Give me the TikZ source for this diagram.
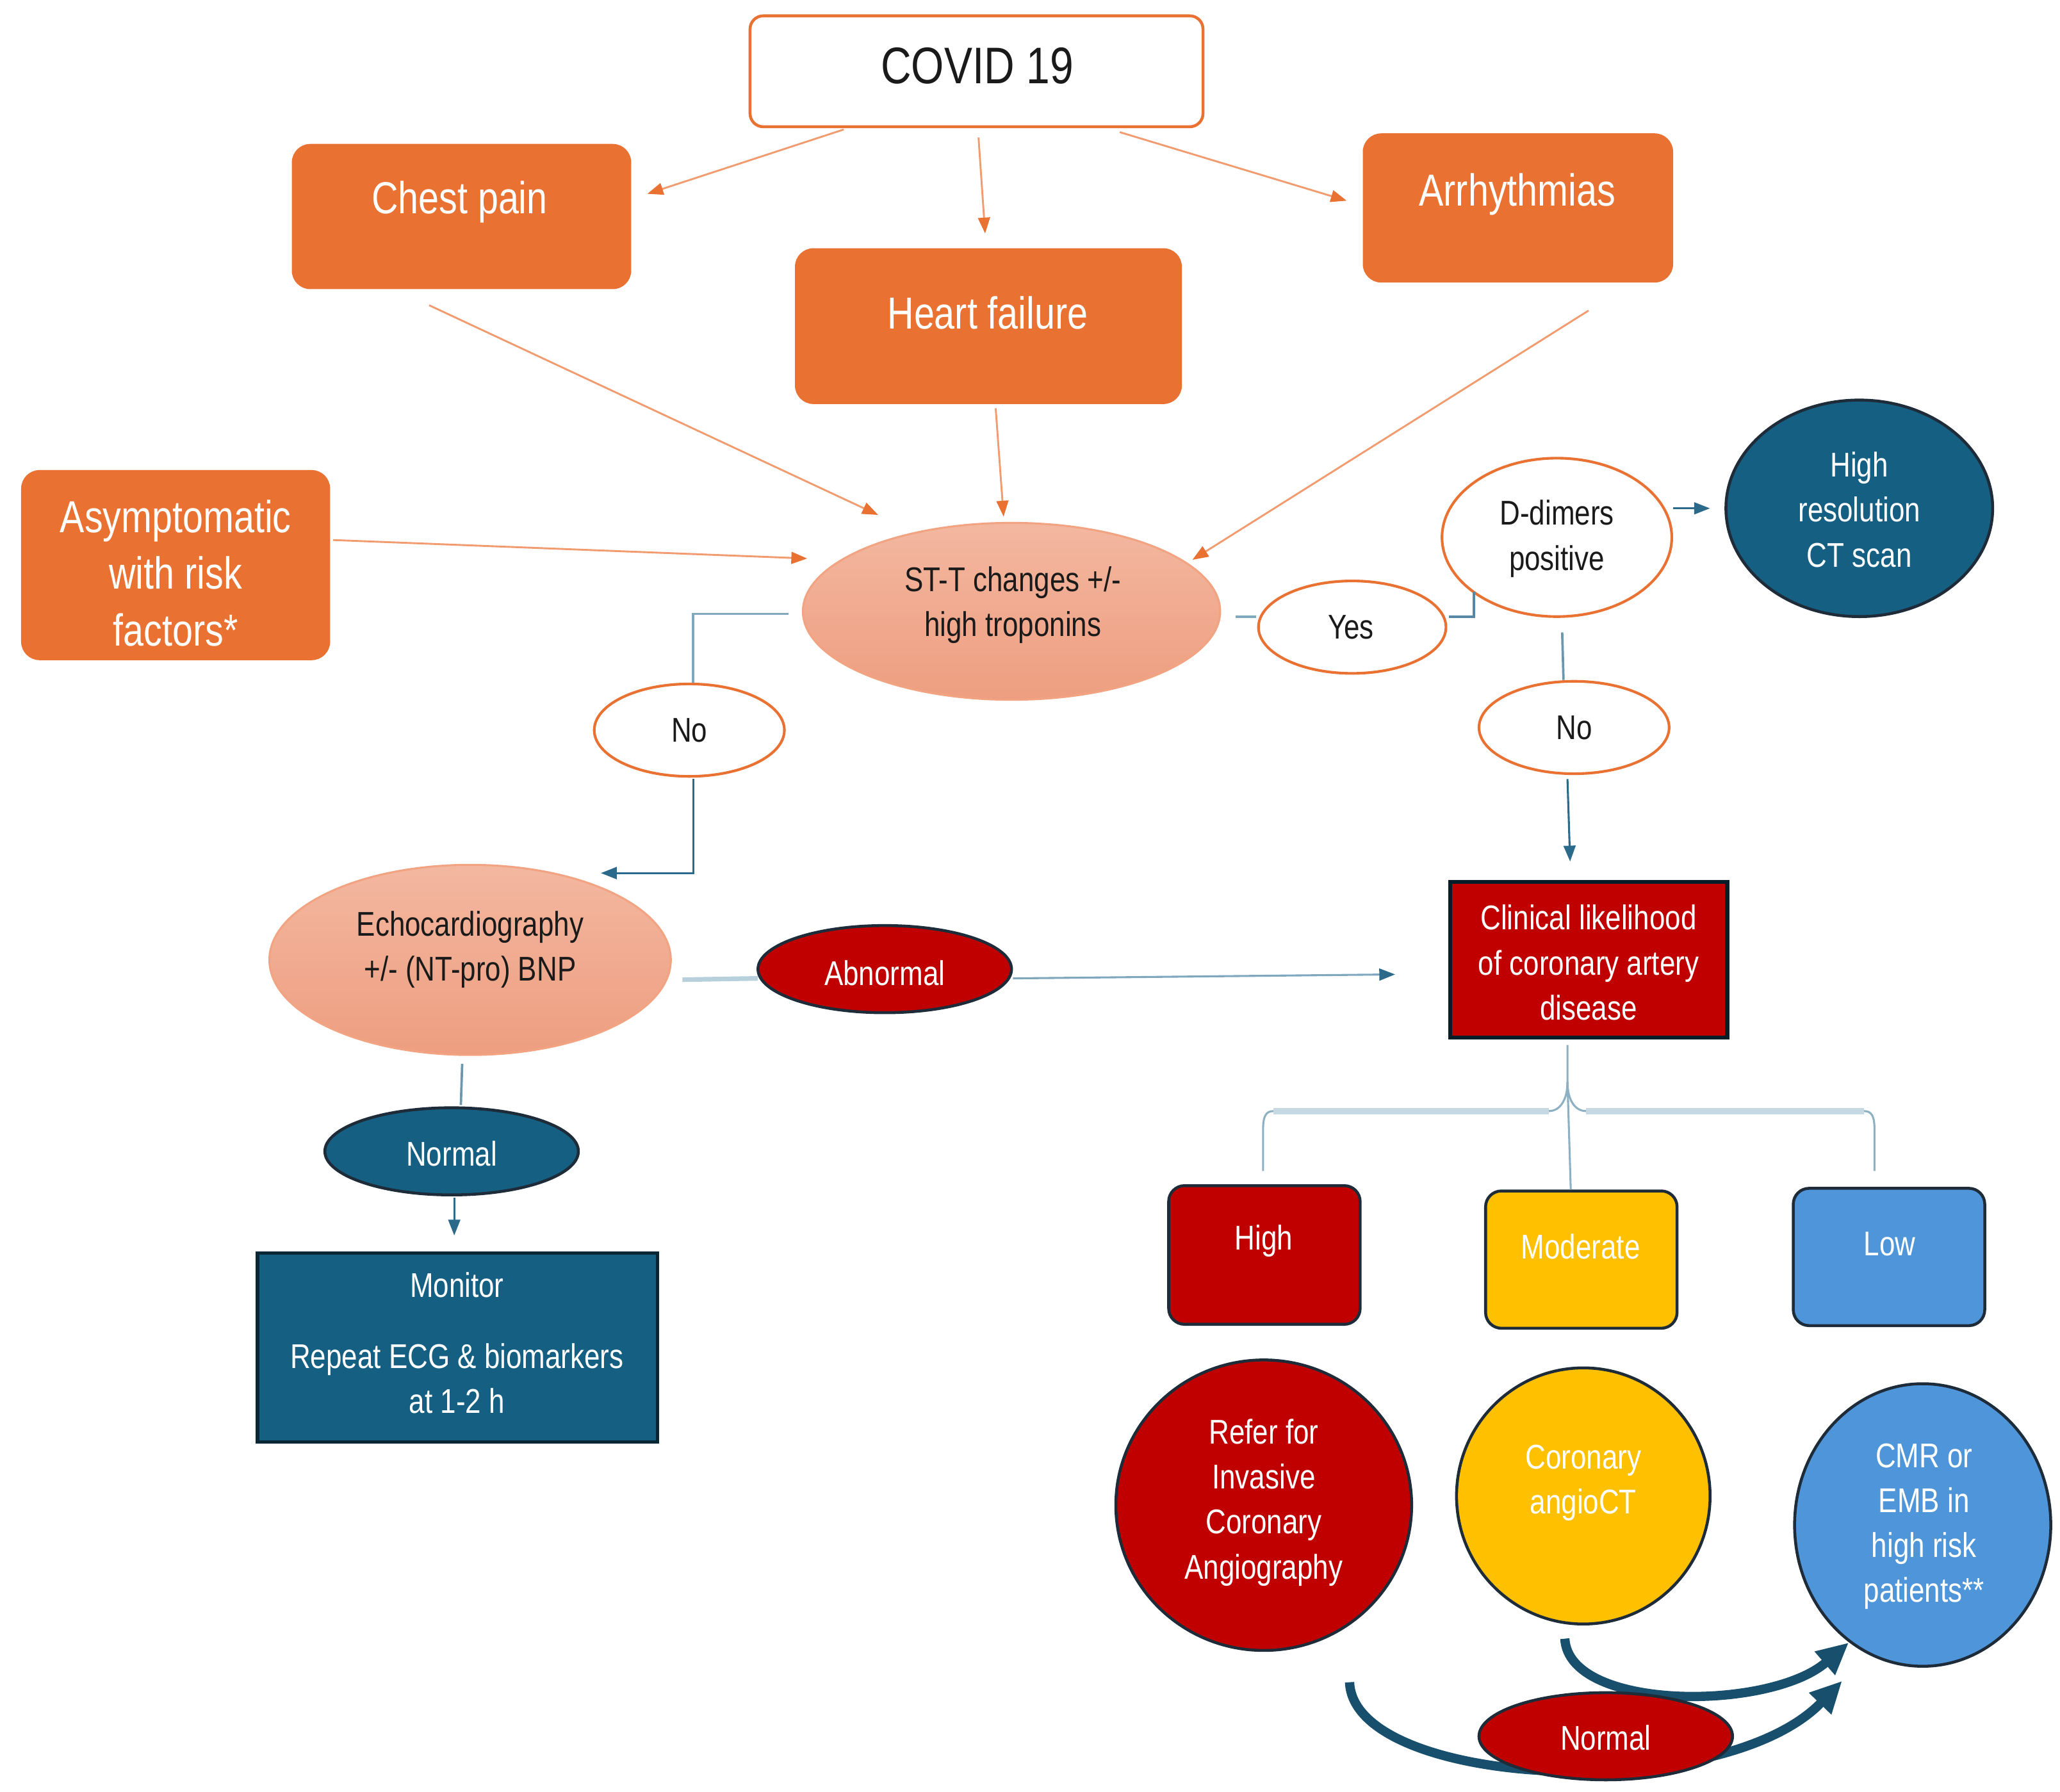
\documentclass[tikz,border=0pt]{standalone}
\usepackage{fontspec}
\setmainfont{Liberation Sans}[FakeStretch=0.82]
\usetikzlibrary{shapes.geometric,calc,arrows.meta}
\definecolor{orng}{HTML}{E97132}
\definecolor{orngl}{HTML}{F19B6E}
\definecolor{dteal}{HTML}{156082}
\definecolor{dred}{HTML}{C00000}
\definecolor{ylw}{HTML}{FFC000}
\definecolor{lblue}{HTML}{4E95D9}
\definecolor{dborder}{HTML}{1E2B38}
\definecolor{sal1}{HTML}{F3B7A0}
\definecolor{sal2}{HTML}{EE9E80}
\definecolor{salb}{HTML}{F2A382}
\definecolor{conn}{HTML}{2C6A8C}
\definecolor{connl}{HTML}{7FA8BE}
\definecolor{bracel}{HTML}{C6D9E3}
\definecolor{bracet}{HTML}{8DB0C3}
\definecolor{curv}{HTML}{174F6D}
\definecolor{txtd}{HTML}{1A1A1A}
\tikzset{
  obox/.style={rectangle, rounded corners=14pt, fill=orng, draw=none, inner sep=0pt},
  rbox/.style={rectangle, rounded corners=12pt, draw=dborder, line width=2.2pt, inner sep=0pt},
  ell/.style={ellipse, inner sep=0pt},
  oell/.style={ellipse, inner sep=0pt, draw=orng, line width=2pt, fill=white},
  salell/.style={ellipse, inner sep=0pt, top color=sal1, bottom color=sal2, draw=salb, line width=1.5pt},
  dell/.style={ellipse, inner sep=0pt, draw=dborder, line width=2.2pt},
  txtS/.style={font=\fontsize{26}{34}\selectfont, align=center, inner sep=0pt},
  txtL/.style={font=\fontsize{34}{43}\selectfont, text=white, align=center, inner sep=0pt},
  oarrow/.style={draw=orngl, line width=1.4pt, -{Triangle[length=12pt,width=9pt,color=orng]}},
  tarrow/.style={draw=conn, line width=1.5pt, -{Triangle[length=12pt,width=9pt,color=conn]}},
  tline/.style={draw=connl, line width=1.8pt},
  bthin/.style={draw=bracet, line width=1.5pt},
  bthick/.style={draw=bracel, line width=5pt},
  carrow/.style={draw=curv, line width=7pt, -{Triangle[length=24pt,width=22pt,color=curv]}}
}
\begin{document}
\begin{tikzpicture}[x=1pt,y=-1pt]
\useasboundingbox (0,0) rectangle (1560,1357);
\fill[white] (0,0) rectangle (1560,1357);

% ---------- shapes ----------
\node[rectangle, rounded corners=10pt, draw=orng, line width=2.2pt, fill=white, inner sep=0pt,
      minimum width=343pt, minimum height=84pt] (covid) at (739.5,54) {};
\node[obox, minimum width=257pt, minimum height=110pt] (cp) at (349.5,164) {};
\node[obox, minimum width=293pt, minimum height=118pt] (hf) at (748.5,247) {};
\node[obox, minimum width=235pt, minimum height=113pt] (ar) at (1149.5,157.5) {};
\node[obox, minimum width=234pt, minimum height=144pt] (as) at (133,428) {};
\node[salell, minimum width=316pt, minimum height=134pt] (st) at (766,463) {};
\node[oell, minimum width=142pt, minimum height=70pt] (yes) at (1024,475) {};
\node[oell, minimum width=174pt, minimum height=120pt] (dd) at (1179,407) {};
\node[dell, fill=dteal, minimum width=202pt, minimum height=164pt] (hr) at (1408,385) {};
\node[oell, minimum width=144pt, minimum height=70pt] (noL) at (522,553) {};
\node[oell, minimum width=144pt, minimum height=70pt] (noR) at (1192,551) {};
\node[salell, minimum width=304pt, minimum height=144pt] (echo) at (356,727) {};
\node[dell, fill=dred, minimum width=192pt, minimum height=66pt] (ab) at (670,734) {};
\node[rectangle, fill=dred, draw=black!70!dteal, line width=3pt, inner sep=0pt,
      minimum width=210pt, minimum height=118pt] (cl) at (1203,727) {};
\node[dell, fill=dteal, minimum width=192pt, minimum height=66pt] (nL) at (342,872) {};
\node[rectangle, fill=dteal, draw=black!60!dteal, line width=2.5pt, inner sep=0pt,
      minimum width=303pt, minimum height=143pt] (mon) at (346.5,1020.5) {};
\node[rbox, fill=dred, minimum width=145pt, minimum height=105pt] (hi) at (957.5,950.5) {};
\node[rbox, fill=ylw, minimum width=145pt, minimum height=104pt] (mo) at (1197.5,954) {};
\node[rbox, fill=lblue, minimum width=145pt, minimum height=104pt] (lo) at (1430.5,952) {};
\node[dell, fill=dred, minimum width=224pt, minimum height=220pt] (re) at (957,1140) {};
\node[dell, fill=ylw, minimum width=192pt, minimum height=194pt] (co) at (1199,1133) {};
\node[dell, fill=lblue, minimum width=194pt, minimum height=214pt] (cm) at (1456,1155) {};

% ---------- texts ----------
\node[font=\fontsize{39}{46}\selectfont, text=txtd, inner sep=0pt] (covid-t) at (740,50) {COVID 19};
\node[txtL] (cp-t) at (348,153) {Chest pain};
\node[txtL] (hf-t) at (748,237) {Heart failure};
\node[txtL] (ar-t) at (1149,147) {Arrhythmias};
\node[txtL] (as-t) at (133,434) {Asymptomatic\\with risk\\factors*};
\node[txtS, text=txtd] (st-t) at (767,458) {ST-T changes +/-\\high troponins};
\node[txtS, text=txtd] (yes-t) at (1023,475) {Yes};
\node[txtS, text=txtd] (dd-t) at (1179,408) {D-dimers\\positive};
\node[txtS, text=white] (hr-t) at (1408,386) {High\\resolution\\CT scan};
\node[txtS, text=txtd] (noL-t) at (522,553) {No};
\node[txtS, text=txtd] (noR-t) at (1192,551) {No};
\node[txtS, text=txtd] (echo-t) at (356,719) {Echocardiography\\+/- (NT-pro) BNP};
\node[txtS, text=white] (ab-t) at (670,737) {Abnormal};
\node[txtS, text=white] (cl-t) at (1203,729) {Clinical likelihood\\of coronary artery\\disease};
\node[txtS, text=white] (nL-t) at (342,874) {Normal};
\node[txtS, text=white] (mon-t) at (346,1017) {Monitor\\[20pt]Repeat ECG \& biomarkers\\at 1-2 h};
\node[txtS, text=white] (hi-t) at (957,940) {High};
\node[txtS, text=white] (mo-t) at (1197,944) {Moderate};
\node[txtS, text=white] (lo-t) at (1431,942) {Low};
\node[txtS, text=white] (re-t) at (957,1138) {Refer for\\Invasive\\Coronary\\Angiography};
\node[txtS, text=white] (co-t) at (1199,1123) {Coronary\\angioCT};
\node[txtS, text=white] (cm-t) at (1457,1156) {CMR or\\EMB in\\high risk\\patients**};

% ---------- orange connectors ----------
\draw[oarrow] ($(covid.south west)+(72,1)$) -- ($(cp.north east)+(12,38)$);
\draw[oarrow] ($(covid.south)+(1.5,7)$) -- ($(hf.north)+(-2.5,-11)$);
\draw[oarrow] ($(covid.south)+(108.5,3)$) -- ($(ar.west)+(-12,-5.5)$);
\draw[oarrow] ($(cp.south)+(-24.5,12)$) -- ($(st.center)+(-101,-73)$);
\draw[oarrow] ($(hf.south)+(5.5,3)$) -- ($(st.north)+(-6,-4)$);
\draw[oarrow] ($(ar.south)+(53.5,21)$) -- ($(st.center)+(137,-39)$);
\draw[oarrow] ($(as.east)+(2,-19)$) -- ($(st.west)+(4,-40)$);

% ---------- teal connectors ----------
\draw[tline] ($(st.west)+(-10,2)$) -| ($(noL.north)+(3,0)$);
\draw[tarrow] ($(noL.south)+(3,1)$) |- ($(echo.north)+(99,7)$);
\draw[tline] ($(st.east)+(11,4)$) -- ($(yes.west)+(-1,-8)$);
\draw[tline, draw=conn!80] ($(yes.east)+(1,-8)$) -| ($(dd.center)+(-63,41)$);
\draw[tarrow] ($(dd.east)+(0,-22)$) -- ($(hr.west)+(-11,0)$);
\draw[tline, draw=conn!70] ($(dd.south)+(4,11)$) -- ($(noR.north)+(-8,0)$);
\draw[tarrow] ($(noR.south)+(-5,3)$) -- ($(cl.north)+(-14,-14)$);
\draw[draw=bracel!80!connl, line width=3.5pt] ($(echo.east)+(8,15)$) -- ($(ab.west)+(1,7)$);
\draw[tarrow, draw=connl] ($(ab.east)+(0,7)$) -- ($(cl.west)+(-40,11)$);
\draw[tline, draw=conn!70] ($(echo.south)+(-6,6)$) -- ($(nL.north)+(7,-1)$);
\draw[tarrow] ($(nL.south)+(2,1)$) -- ($(mon.north)+(-2.5,-12)$);

% ---------- brace ----------
\coordinate (bT) at ($(cl.south)+(-16,4)$);
\coordinate (bS) at ($(bT)+(0,28)$);
\coordinate (bH) at ($(bS)+(0,22)$);
\coordinate (bL) at ($(hi.north)+(-1,-10)$);
\coordinate (bM) at ($(mo.north)+(-8,0)$);
\coordinate (bR) at ($(lo.north)+(-11,-12)$);
\draw[bthin] (bT) -- (bS) .. controls +(0,14) and +(8,0) .. ($(bH)+(-14,0)$) -- ($(bL|-bH)+(8,0)$)
  .. controls +(-6,0) and +(0,-10) .. ($(bL|-bH)+(0,14)$) -- (bL);
\draw[bthin] (bS) .. controls +(0,14) and +(-8,0) .. ($(bH)+(14,0)$) -- ($(bR|-bH)+(-8,0)$)
  .. controls +(6,0) and +(0,-10) .. ($(bR|-bH)+(0,14)$) -- (bR);
\draw[bthin] (bS) -- (bM);
\draw[bthick] ($(bH)+(-14,0)$) -- ($(bL|-bH)+(8,0)$);
\draw[bthick] ($(bH)+(14,0)$) -- ($(bR|-bH)+(-8,0)$);

% ---------- bottom curved arrows ----------
\draw[carrow] ($(re.south)+(65,23)$) .. controls +(3,80) and +(-92,95) .. ($(cm.south)+(-61,10)$);
\draw[carrow] ($(co.south)+(-14,10)$) .. controls +(3,55) and +(-60,52) .. ($(cm.south)+(-56,-19)$);

\node[dell, fill=dred, minimum width=192pt, minimum height=66pt] (nB) at (1216,1315) {};
\node[txtS, text=white] (nB-t) at (1216,1316) {Normal};
\end{tikzpicture}
\end{document}
